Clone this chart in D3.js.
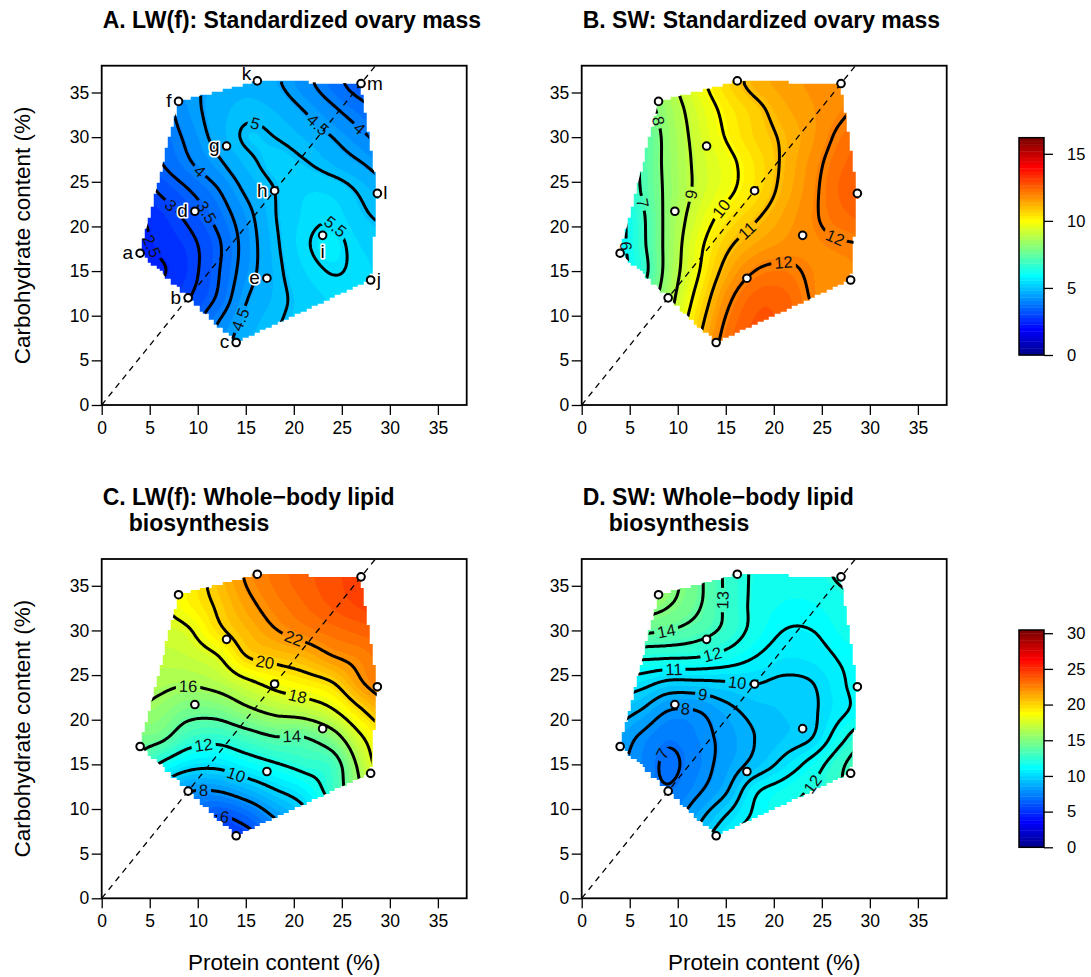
<!DOCTYPE html>
<html lang="en">
<head>
<meta charset="utf-8">
<title>Nutrient landscapes</title>
<script src="https://cdn.jsdelivr.net/npm/d3@7"></script>
<style>
  body { margin: 0; background: #fff; }
  svg text { font-family: "Liberation Sans", Arial, Helvetica, sans-serif; }
</style>
</head>
<body>
<script>
// ---- diets (protein %, carbohydrate %) ----
var dietLetter  = ["a", "b", "c", "d", "e", "f", "g", "h", "i", "j", "k", "l", "m"];
var dietProtein = [4, 9, 14, 9.7, 17.2, 8, 13, 18, 23, 28, 16.2, 28.7, 27];
var dietCarb    = [17, 12, 7, 21.7, 14.2, 34, 29, 24, 19, 14, 36.3, 23.7, 36];
var letterSide  = ["left", "left", "left", "left", "left", "left", "left", "left", "below", "right", "upleft", "right", "right"];
var hullLetters = ["a", "f", "k", "m", "l", "j", "c"];

// ---- fitted surfaces, grid rows are carbohydrate 6..36 ----
var gridProtein = [3, 6, 9, 12, 15, 18, 21, 24, 27, 30];
var gridCarb    = [6, 9, 12, 15, 18, 21, 24, 27, 30, 33, 36];

var ovaryLW = [
  [2.8, 3.1, 3.5, 4.2, 4.8, 5.0, 5.15, 5.25, 5.25, 5.2],
  [2.6, 2.9, 3.25, 4.0, 4.65, 4.95, 5.15, 5.3, 5.3, 5.25],
  [2.4, 2.65, 2.97, 3.55, 4.45, 4.85, 5.15, 5.35, 5.35, 5.25],
  [2.2, 2.43, 2.8, 3.43, 4.25, 4.85, 5.3, 5.52, 5.4, 5.2],
  [2.25, 2.6, 2.85, 3.4, 4.2, 4.9, 5.42, 5.62, 5.3, 5.1],
  [2.4, 2.7, 3.1, 3.65, 4.3, 4.97, 5.35, 5.45, 5.1, 4.9],
  [2.6, 3.05, 3.47, 3.95, 4.57, 5.0, 5.28, 5.25, 4.93, 4.6],
  [3.0, 3.45, 3.92, 4.38, 4.85, 5.12, 5.05, 4.8, 4.53, 4.2],
  [3.1, 3.6, 4.12, 4.65, 5.05, 5.0, 4.8, 4.5, 4.12, 3.75],
  [3.4, 3.75, 4.3, 4.68, 4.9, 4.8, 4.5, 4.1, 3.7, 3.35],
  [3.8, 4.1, 4.4, 4.6, 4.72, 4.58, 4.17, 3.71, 3.25, 3.0]
];
var ovarySW = [
  [6.6, 7.6, 9.2, 11.0, 12.3, 12.8, 12.7, 12.2, 11.7, 11.4],
  [6.3, 7.3, 8.9, 10.65, 12.1, 12.7, 12.6, 12.1, 11.7, 11.5],
  [6.0, 7.0, 8.6, 10.25, 11.75, 12.5, 12.5, 11.95, 11.7, 11.6],
  [5.6, 6.5, 8.35, 9.87, 11.25, 12.0, 12.15, 11.9, 11.85, 11.9],
  [5.45, 6.65, 8.3, 9.7, 10.8, 11.4, 11.7, 11.85, 11.95, 12.0],
  [5.45, 6.7, 8.27, 9.4, 10.3, 10.9, 11.45, 11.9, 12.3, 12.5],
  [5.8, 6.95, 8.23, 9.15, 9.8, 10.45, 11.2, 11.85, 12.45, 12.7],
  [5.9, 7.0, 8.27, 9.15, 9.75, 10.4, 11.1, 11.76, 12.35, 12.6],
  [6.1, 7.0, 8.3, 9.25, 10.03, 10.65, 11.1, 11.6, 12.15, 12.5],
  [6.6, 7.4, 8.45, 9.4, 10.2, 10.78, 11.3, 11.62, 11.9, 12.2],
  [7.0, 7.6, 8.7, 9.7, 10.55, 11.2, 11.5, 11.7, 11.85, 11.95]
];
var lipidLW = [
  [9.0, 7.5, 5.8, 4.8, 5.2, 6.5, 8.5, 11.0, 13.5, 16.0],
  [10.0, 8.5, 7.0, 5.9, 6.5, 8.0, 9.4, 11.5, 14.0, 17.0],
  [11.8, 9.5, 8.1, 8.0, 8.8, 9.85, 10.8, 12.7, 15.8, 18.5],
  [13.9, 11.9, 10.6, 10.4, 11.15, 11.85, 12.5, 13.1, 16.6, 19.5],
  [14.7, 14.4, 12.9, 12.55, 13.2, 13.9, 13.95, 15.2, 17.8, 19.8],
  [16.0, 15.5, 14.6, 14.65, 15.6, 16.4, 16.8, 17.8, 19.8, 21.5],
  [16.6, 16.3, 16.1, 16.5, 17.5, 18.45, 19.1, 19.85, 21.8, 23.0],
  [17.2, 16.9, 17.1, 17.85, 19.9, 20.45, 20.95, 21.9, 22.5, 23.3],
  [17.6, 17.45, 17.85, 19.6, 20.86, 21.9, 22.6, 23.1, 23.5, 23.8],
  [18.0, 17.9, 19.0, 20.2, 21.6, 22.6, 23.3, 23.9, 24.4, 24.8],
  [17.5, 18.2, 19.1, 20.6, 22.1, 23.0, 23.6, 24.1, 24.6, 25.0]
];
var lipidSW = [
  [9.0, 8.4, 8.2, 9.5, 11.0, 11.8, 12.3, 12.8, 13.5, 14.3],
  [8.8, 8.0, 7.6, 8.7, 10.1, 11.2, 11.8, 12.5, 13.3, 14.2],
  [8.5, 7.6, 7.1, 7.85, 8.9, 10.8, 11.5, 12.15, 13.0, 14.0],
  [8.3, 7.65, 6.85, 7.5, 8.4, 9.3, 10.3, 11.4, 12.8, 14.0],
  [8.8, 7.9, 7.2, 7.6, 8.3, 9.0, 9.5, 10.0, 11.7, 13.0],
  [9.6, 9.0, 8.0, 8.0, 8.7, 9.3, 9.55, 9.85, 10.8, 11.5],
  [10.6, 10.35, 9.7, 9.7, 9.85, 10.0, 9.8, 9.97, 10.85, 11.6],
  [12.3, 12.2, 12.1, 12.0, 11.6, 11.0, 10.5, 10.6, 11.1, 11.5],
  [15.0, 14.3, 14.0, 13.5, 12.75, 11.7, 11.0, 11.0, 11.5, 11.9],
  [15.9, 15.6, 15.1, 14.2, 12.85, 11.8, 11.4, 11.4, 11.75, 12.1],
  [16.5, 16.0, 15.4, 14.3, 12.85, 11.85, 11.6, 11.75, 12.1, 12.4]
];

// contour levels and where their labels sit (level, protein, carbohydrate)
var levelsOvaryLW = [2.5, 3, 3.5, 4, 4.5, 5, 5.5];
var levelsOvarySW = [6, 7, 8, 9, 10, 11, 12];
var levelsLipidLW = [6, 8, 10, 12, 14, 16, 18, 20, 22];
var levelsLipidSW = [7, 8, 9, 10, 11, 12, 13, 14, 15];
var labelsOvaryLW = [[2.5, 5.4, 17.8], [3, 7.2, 22.4], [3.5, 11.1, 21.7], [4, 10.2, 26.0], [4.5, 14.0, 9.7],
                     [5, 15.9, 31.3], [5.5, 24.1, 19.8], [4.5, 22.5, 31.4], [4, 26.7, 30.8]];
var labelsOvarySW = [[6, 4.85, 17.9], [7, 6.4, 22.6], [8, 7.8, 31.8], [9, 11.1, 23.7], [10, 14.7, 21.9],
                     [11, 17.3, 19.4], [12, 26.5, 18.9], [12, 21.1, 15.5]];
var labelsLipidLW = [[6, 12.8, 9.0], [8, 10.6, 12.1], [10, 14.0, 13.8], [12, 10.6, 16.8], [14, 19.8, 18.1],
                     [16, 9.0, 23.7], [18, 20.3, 22.6], [20, 16.8, 25.8], [22, 19.9, 28.9]];
var labelsLipidSW = [[7, 8.7, 16.0], [8, 10.9, 21.4], [9, 12.5, 22.7], [10, 16.1, 23.9], [11, 9.7, 25.6],
                     [12, 13.5, 27.4], [12, 23.9, 12.9], [13, 14.4, 33.4], [14, 8.7, 30.0]];

var axisTicks = [0, 5, 10, 15, 20, 25, 30, 35];
var ovaryTicks = [0, 5, 10, 15];
var lipidTicks = [0, 5, 10, 15, 20, 25, 30];
var zmaxOvary = 16.2;
var zmaxLipid = 30.45;

var titles = [
  ["A. LW(f): Standardized ovary mass"],
  ["B. SW: Standardized ovary mass"],
  ["C. LW(f): Whole\u2212body lipid", "biosynthesis"],
  ["D. SW: Whole\u2212body lipid", "biosynthesis"]
];

// ---- layout ----
var W = 1091, H = 977;
var colLeft = [101.7, 581.7], rowTop = [65.7, 559];
var pw = 365, ph = 339.3;
var font = "'Liberation Sans', Arial, sans-serif";

var svg = d3.select("body").append("svg").attr("width", W).attr("height", H);
var defs = svg.append("defs");

// 64-step jet palette (blue -> cyan -> yellow -> red)
function ramp(k) { return k <= 16 ? k / 16 : k <= 31 ? 1 : k <= 47 ? (48 - k) / 16 : 0; }
function jet64(i) {           // i = 1..64
  function at(k) { return (k >= 1 && k <= 47) ? ramp(k) : 0; }
  return d3.rgb(Math.round(255 * at(i - 24)), Math.round(255 * at(i - 8)), Math.round(255 * at(i + 8)));
}
var palette = d3.range(1, 65).map(jet64);

// bicubic (Catmull-Rom) read of a surface grid
function cubic(p0, p1, p2, p3, t) {
  return p1 + 0.5 * t * (p2 - p0 + t * (2 * p0 - 5 * p1 + 4 * p2 - p3 + t * (3 * (p1 - p2) + p3 - p0)));
}
function sample(grid, px, cy) {
  var nx = gridProtein.length, ny = gridCarb.length;
  var u = (px - gridProtein[0]) / (gridProtein[1] - gridProtein[0]);
  var v = (cy - gridCarb[0]) / (gridCarb[1] - gridCarb[0]);
  u = Math.max(0, Math.min(nx - 1, u)); v = Math.max(0, Math.min(ny - 1, v));
  var i = Math.min(Math.floor(u), nx - 2), j = Math.min(Math.floor(v), ny - 2);
  function g(a, b) { a = Math.max(0, Math.min(nx - 1, a)); b = Math.max(0, Math.min(ny - 1, b)); return grid[b][a]; }
  var r = [];
  for (var m = -1; m <= 2; m++) r.push(cubic(g(i - 1, j + m), g(i, j + m), g(i + 1, j + m), g(i + 2, j + m), u - i));
  return cubic(r[0], r[1], r[2], r[3], v - j);
}

var hullUnits = hullLetters.map(function(l) { var k = dietLetter.indexOf(l); return [dietProtein[k], dietCarb[k]]; });

var panels = [
  { id: "A", grid: ovaryLW, levels: levelsOvaryLW, labels: labelsOvaryLW, zmax: zmaxOvary, col: 0, row: 0 },
  { id: "B", grid: ovarySW, levels: levelsOvarySW, labels: labelsOvarySW, zmax: zmaxOvary, col: 1, row: 0 },
  { id: "C", grid: lipidLW, levels: levelsLipidLW, labels: labelsLipidLW, zmax: zmaxLipid, col: 0, row: 1 },
  { id: "D", grid: lipidSW, levels: levelsLipidSW, labels: labelsLipidSW, zmax: zmaxLipid, col: 1, row: 1 }
];

panels.forEach(function(p, pi) {
  var left = colLeft[p.col], top = rowTop[p.row];
  var x = d3.scaleLinear().domain([0, 38]).range([left, left + pw]);
  var y = d3.scaleLinear().domain([0, 38]).range([top + ph, top]);
  var color = d3.scaleQuantize().domain([0, p.zmax]).range(palette);
  var g = svg.append("g");

  // filled surface inside the diet hull
  var cw = Math.round(pw), ch = Math.round(ph), cell = 0.3;
  var canvas = document.createElement("canvas");
  canvas.width = cw; canvas.height = ch;
  var ctx = canvas.getContext("2d");
  var img = ctx.createImageData(cw, ch);
  for (var j = 0; j < ch; j++) {
    for (var i = 0; i < cw; i++) {
      var ux = x.invert(left + i + 0.5), uy = y.invert(top + j + 0.5);
      var sx = (Math.floor(ux / cell) + 0.5) * cell, sy = (Math.floor(uy / cell) + 0.5) * cell;
      if (!d3.polygonContains(hullUnits, [sx, sy])) continue;
      var c = color(sample(p.grid, ux, uy)), k = (j * cw + i) * 4;
      img.data[k] = c.r; img.data[k + 1] = c.g; img.data[k + 2] = c.b; img.data[k + 3] = 255;
    }
  }
  ctx.putImageData(img, 0, 0);
  g.append("image").attr("x", left).attr("y", top).attr("width", cw).attr("height", ch)
    .attr("href", canvas.toDataURL());

  // contour lines
  var fs = 0.2, fx0 = 2, fy0 = 5;
  var fnx = Math.round((31 - fx0) / fs) + 1, fny = Math.round((38 - fy0) / fs) + 1;
  var values = new Float64Array(fnx * fny);
  for (var b = 0; b < fny; b++) for (var a = 0; a < fnx; a++) values[b * fnx + a] = sample(p.grid, fx0 + a * fs, fy0 + b * fs);
  var conts = d3.contours().size([fnx, fny]).thresholds(p.levels)(values);

  var hullPx = hullUnits.map(function(d) { return [x(d[0]), y(d[1])]; });
  defs.append("clipPath").attr("id", "hull" + p.id).append("path")
    .attr("d", "M" + hullPx.join("L") + "Z");

  var rings = [];
  conts.forEach(function(cn) {
    cn.coordinates.forEach(function(poly) {
      poly.forEach(function(ring) {
        rings.push({ value: cn.value, pts: ring.map(function(pt) {
          return [x(fx0 + (pt[0] - 0.5) * fs), y(fy0 + (pt[1] - 0.5) * fs)];
        }) });
      });
    });
  });

  // labels: nearest point of that level, rotated along the line
  var mask = defs.append("mask").attr("id", "gap" + p.id).attr("maskUnits", "userSpaceOnUse")
    .attr("x", 0).attr("y", 0).attr("width", W).attr("height", H);
  mask.append("rect").attr("width", W).attr("height", H).attr("fill", "white");
  var labelG = svg.append("g");
  p.labels.forEach(function(lb) {
    var hx = x(lb[1]), hy = y(lb[2]), best = null;
    rings.forEach(function(r) {
      if (r.value !== lb[0]) return;
      var n = r.pts.length - 1;
      for (var q = 0; q < n; q++) {
        var pt = r.pts[q];
        if (!d3.polygonContains(hullPx, pt)) continue;
        var dd = (pt[0] - hx) * (pt[0] - hx) + (pt[1] - hy) * (pt[1] - hy);
        if (!best || dd < best.d) best = { d: dd, r: r, q: q, n: n };
      }
    });
    if (!best) return;
    var pa = best.r.pts[(best.q - 4 + best.n) % best.n], pb = best.r.pts[(best.q + 4) % best.n];
    var ang = Math.atan2(pb[1] - pa[1], pb[0] - pa[0]) * 180 / Math.PI;
    if (ang > 90) ang -= 180;
    if (ang <= -90) ang += 180;
    var cp = best.r.pts[best.q];
    var t = labelG.append("text")
      .attr("transform", "translate(" + cp[0] + "," + cp[1] + ") rotate(" + ang + ")")
      .attr("text-anchor", "middle").attr("dy", "0.36em")
      .attr("font-size", 16.5).attr("fill", "#111").text(String(lb[0]));
    var tw = t.node().getComputedTextLength();
    mask.append("rect")
      .attr("transform", "translate(" + cp[0] + "," + cp[1] + ") rotate(" + ang + ")")
      .attr("x", -tw / 2 - 3).attr("y", -7).attr("width", tw + 6).attr("height", 14).attr("fill", "black");
  });

  g.append("g").attr("clip-path", "url(#hull" + p.id + ")")
    .append("g").attr("mask", "url(#gap" + p.id + ")")
    .selectAll("path").data(rings).enter().append("path")
    .attr("d", function(r) { return d3.line()(r.pts); })
    .attr("fill", "none").attr("stroke", "#000").attr("stroke-width", 3)
    .attr("stroke-linecap", "round").attr("stroke-linejoin", "round");
  labelG.raise();

  // 3:4 protein to carbohydrate rail
  defs.append("clipPath").attr("id", "plot" + p.id).append("rect")
    .attr("x", left).attr("y", top).attr("width", pw).attr("height", ph);
  svg.append("line").attr("clip-path", "url(#plot" + p.id + ")")
    .attr("x1", x(0)).attr("y1", y(0)).attr("x2", x(28.5)).attr("y2", y(38))
    .attr("stroke", "#000").attr("stroke-width", 1.3).attr("stroke-dasharray", "6,5");

  // diets
  svg.append("g").selectAll("circle").data(dietLetter).enter().append("circle")
    .attr("cx", function(d, i) { return x(dietProtein[i]); })
    .attr("cy", function(d, i) { return y(dietCarb[i]); })
    .attr("r", 3.8).attr("fill", "#fff").attr("stroke", "#000").attr("stroke-width", 2);

  if (p.id === "A") {
    svg.append("g").selectAll("text").data(dietLetter).enter().append("text")
      .attr("x", function(d, i) {
        var cx = x(dietProtein[i]), s = letterSide[i];
        return s === "left" ? cx - 7 : s === "right" ? cx + 6 : s === "upleft" ? cx - 6 : cx;
      })
      .attr("y", function(d, i) {
        var cy = y(dietCarb[i]), s = letterSide[i];
        return s === "below" ? cy + 23 : s === "upleft" ? cy - 1 : cy + 6;
      })
      .attr("text-anchor", function(d, i) {
        var s = letterSide[i];
        return s === "right" ? "start" : s === "below" ? "middle" : "end";
      })
      .attr("font-size", 19).attr("fill", "#000").attr("stroke", "#fff").attr("stroke-width", 3.2)
      .attr("paint-order", "stroke").attr("stroke-linejoin", "round")
      .text(function(d) { return d; });
  }

  // axes and box
  var ax = svg.append("g").attr("transform", "translate(0," + (top + ph) + ")")
    .call(d3.axisBottom(x).tickValues(axisTicks).tickSize(10).tickPadding(6.5));
  var ay = svg.append("g").attr("transform", "translate(" + left + ",0)")
    .call(d3.axisLeft(y).tickValues(axisTicks).tickSize(10).tickPadding(2.5));
  [ax, ay].forEach(function(s) {
    s.select(".domain").remove();
    s.selectAll("line").attr("stroke-width", 1.3);
    s.selectAll("text").attr("font-size", 17.5).attr("font-family", font).attr("fill", "#000");
  });
  svg.append("rect").attr("x", left).attr("y", top).attr("width", pw).attr("height", ph)
    .attr("fill", "none").attr("stroke", "#000").attr("stroke-width", 1.8);

  // titles
  var tt = svg.append("text").attr("x", left + 1).attr("y", p.row === 0 ? 28 : 505)
    .attr("font-size", 23).attr("font-weight", "bold").attr("fill", "#000");
  titles[pi].forEach(function(line, li) {
    tt.append("tspan").attr("x", left + 1 + (li ? 26 : 0)).attr("dy", li ? 26 : 0).text(line);
  });

  if (p.col === 0) {
    svg.append("text").attr("transform", "translate(29.5," + (top + ph / 2) + ") rotate(-90)")
      .attr("text-anchor", "middle").attr("font-size", 22.5).attr("fill", "#000")
      .text("Carbohydrate content (%)");
  }
  if (p.row === 1) {
    svg.append("text").attr("x", left + pw / 2).attr("y", 970)
      .attr("text-anchor", "middle").attr("font-size", 22.5).attr("fill", "#000")
      .text("Protein content (%)");
  }
});

// colour bars
[[zmaxOvary, 355, ovaryTicks], [zmaxLipid, 847.3, lipidTicks]].forEach(function(cb) {
  var s = d3.scaleLinear().domain([0, cb[0]]).range([cb[1], cb[1] - 217.3]);
  var step = cb[0] / 64;
  var g = svg.append("g");
  g.selectAll("rect").data(palette).enter().append("rect")
    .attr("x", 1019).attr("width", 25)
    .attr("y", function(d, i) { return s((i + 1) * step); })
    .attr("height", function(d, i) { return s(i * step) - s((i + 1) * step) + 0.4; })
    .attr("fill", function(d) { return d; });
  g.append("rect").attr("x", 1019).attr("y", s(cb[0])).attr("width", 25).attr("height", s(0) - s(cb[0]))
    .attr("fill", "none").attr("stroke", "#000").attr("stroke-width", 1.5);
  var axis = g.append("g").attr("transform", "translate(1044,0)")
    .call(d3.axisRight(s).tickValues(cb[2]).tickSize(9).tickPadding(14));
  axis.select(".domain").remove();
  axis.selectAll("line").attr("stroke-width", 1.3);
  axis.selectAll("text").attr("font-size", 16.5).attr("font-family", font).attr("fill", "#000");
});
</script>
</body>
</html>
